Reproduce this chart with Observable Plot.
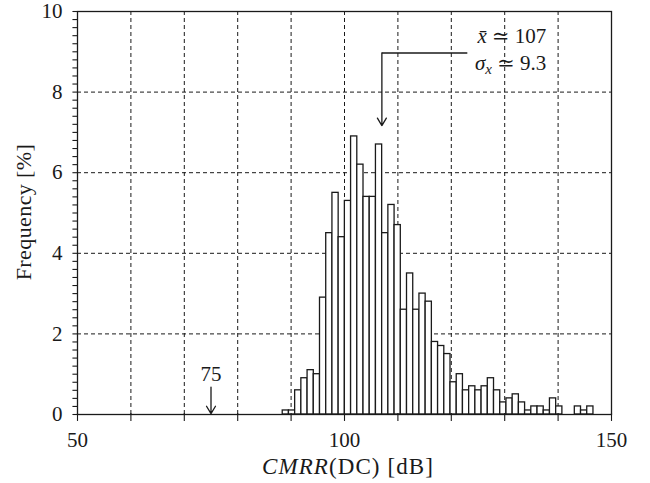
<!DOCTYPE html>
<html><head><meta charset="utf-8">
<script src="https://cdn.jsdelivr.net/npm/d3@7"></script>
<script src="https://cdn.jsdelivr.net/npm/@observablehq/plot@0.6"></script>
<style>html,body{margin:0;padding:0;background:#fff} #chart svg{display:block}</style>
</head><body><div id="chart"></div>
<script>
// Histogram: 50 equal bins between the lowest and highest CMRR(DC) value [dB]
const binLow = 88.43;
const binHigh = 146.62;
const freqs = [
  0.1, 0.1, 0.6, 0.9, 1.1, 1.0, 2.9, 4.5, 5.5, 4.4,
  5.3, 6.9, 6.2, 5.4, 5.4, 6.7, 4.5, 5.2, 4.7, 2.6,
  3.5, 2.6, 3.0, 2.8, 1.8, 1.7, 1.5, 0.8, 1.0, 0.6,
  0.7, 0.6, 0.7, 0.9, 0.6, 0.3, 0.4, 0.5, 0.3, 0.1,
  0.2, 0.2, 0.1, 0.4, 0.2, 0.0, 0.0, 0.2, 0.1, 0.2
];
const xTickLabels = [50, 100, 150];
const xGridValues = [60, 70, 80, 90, 100, 110, 120, 130, 140];
const yTickLabels = [0, 2, 4, 6, 8, 10];
const yGridValues = [2, 4, 6, 8];
const meanValue = 107;
const sigmaValue = 9.3;
const limitValue = 75;

const nBins = freqs.length;
const bw = (binHigh - binLow) / nBins;
const bins = freqs.map((f, i) => ({x1: binLow + i * bw, x2: binLow + (i + 1) * bw, y: f}))
  .filter(d => d.y > 0);
const yMinor = d3.range(0, 51).map(i => i / 5);
const xMinor = d3.range(50, 151, 10);

const serif = "'Liberation Serif', 'DejaVu Serif', serif";
const ink = "#1a1a1a";

const plot = Plot.plot({
  width: 650,
  height: 483,
  marginLeft: 77,
  marginRight: 39,
  marginTop: 11,
  marginBottom: 69,
  style: {fontFamily: serif, fontSize: "21px", color: ink, background: "#fff", overflow: "visible"},
  x: {domain: [50, 150]},
  y: {domain: [0, 10]},
  marks: [
    Plot.gridX(xGridValues, {stroke: ink, strokeOpacity: 1, strokeWidth: 1, strokeDasharray: "4,3"}),
    Plot.gridY(yGridValues, {stroke: ink, strokeOpacity: 1, strokeWidth: 1, strokeDasharray: "4,3"}),
    Plot.rectY(bins, {x1: "x1", x2: "x2", y: "y", fill: "white", stroke: ink, strokeWidth: 1.3}),
    // minor and major ticks (outward on y, downward on x)
    Plot.link(yMinor, {x1: () => 49.05, x2: () => 50, y1: d => d, y2: d => d, stroke: ink, strokeWidth: 1.1}),
    Plot.link(xMinor, {x1: d => d, x2: d => d, y1: () => -0.16, y2: () => 0.04, stroke: ink, strokeWidth: 1.1}),
    Plot.axisY(yTickLabels, {tickSize: 0, tickPadding: 15, label: null, fontSize: 21, stroke: "none", fill: ink}),
    Plot.axisX(xTickLabels, {tickSize: 0, tickPadding: 18, label: null, fontSize: 21, stroke: "none", fill: ink}),
    Plot.frame({stroke: ink, strokeWidth: 1.3}),
    // mean annotation: leader line and arrow
    Plot.link([{x1: meanValue, x2: 123, y: 8.97}], {x1: "x1", x2: "x2", y1: "y", y2: "y", stroke: ink, strokeWidth: 1.3}),
    Plot.arrow([{x: meanValue, y1: 8.97, y2: 7.17}], {x1: "x", x2: "x", y1: "y1", y2: "y2", stroke: ink, strokeWidth: 1.3, headLength: 10, headAngle: 62}),
    // limit annotation
    Plot.arrow([{x: limitValue, y1: 0.68, y2: 0.02}], {x1: "x", x2: "x", y1: "y1", y2: "y2", stroke: ink, strokeWidth: 1.3, headLength: 10, headAngle: 62}),
    Plot.text([limitValue], {x: d => d, y: 0.84, text: d => String(d), lineAnchor: "bottom", textAnchor: "middle", fontSize: 21, fill: ink})
  ]
});

document.getElementById("chart").appendChild(plot);

const svg = d3.select(plot);
const sx = plot.scale("x");

// Axis titles
const xl = svg.append("text")
  .attr("x", 348).attr("y", 474)
  .attr("text-anchor", "middle")
  .attr("font-family", serif).attr("font-size", 23).attr("letter-spacing", 1.1).attr("fill", ink);
xl.append("tspan").attr("font-style", "italic").text("CMRR");
xl.append("tspan").text("(DC) [dB]");

svg.append("text")
  .attr("transform", "translate(31,212) rotate(-90)")
  .attr("text-anchor", "middle")
  .attr("font-family", serif).attr("font-size", 22).attr("letter-spacing", 0.4).attr("fill", ink)
  .text("Frequency [%]");

// Statistics text
const tx = sx.apply(137.9);
const t1 = svg.append("text")
  .attr("x", tx).attr("y", 43)
  .attr("text-anchor", "end")
  .attr("font-family", serif).attr("font-size", 21).attr("fill", ink);
t1.append("tspan").attr("font-style", "italic").text("x\u0304");
t1.append("tspan").text(" \u2243 " + meanValue);

const t2 = svg.append("text")
  .attr("x", tx).attr("y", 70)
  .attr("text-anchor", "end")
  .attr("font-family", serif).attr("font-size", 21).attr("fill", ink);
t2.append("tspan").attr("font-style", "italic").text("\u03C3");
t2.append("tspan").attr("font-style", "italic").attr("font-size", 15).attr("dy", 4).text("x");
t2.append("tspan").attr("dy", -4).text(" \u2243 " + sigmaValue);
</script>
</body></html>
